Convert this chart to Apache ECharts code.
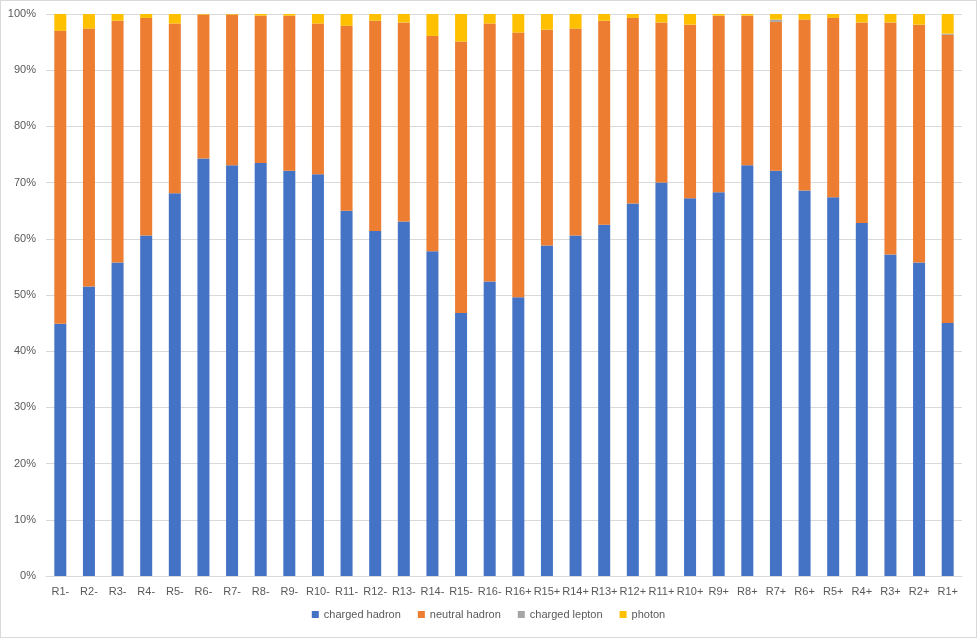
<!DOCTYPE html>
<html>
<head>
<meta charset="utf-8">
<script src="https://cdn.jsdelivr.net/npm/echarts@6/dist/echarts.min.js"></script>
<style>
html,body{margin:0;padding:0;background:#fff;}
#frame{position:absolute;left:0;top:0;width:975px;height:636px;border:1px solid #d9d9d9;}
#chart{position:absolute;left:0;top:0;width:977px;height:639px;}
</style>
</head>
<body>
<div id="frame"></div>
<div id="chart"></div>
<script>
var categories = ['R1-','R2-','R3-','R4-','R5-','R6-','R7-','R8-','R9-','R10-','R11-','R12-','R13-','R14-','R15-','R16-',
                  'R16+','R15+','R14+','R13+','R12+','R11+','R10+','R9+','R8+','R7+','R6+','R5+','R4+','R3+','R2+','R1+'];
var chargedHadron = [44.9,51.5,55.8,60.6,68.1,74.3,73.1,73.5,72.1,71.5,65.0,61.4,63.1,57.8,46.8,52.4,
                     49.6,58.8,60.6,62.5,66.3,70.0,67.2,68.3,73.1,72.1,68.6,67.4,62.8,57.2,55.8,45.0];
var neutralHadron = [52.1,45.9,43.0,38.7,30.2,25.6,26.8,26.2,27.6,26.8,32.9,37.4,35.4,38.3,48.3,45.9,
                     47.1,38.4,36.8,36.3,33.0,28.5,30.9,31.4,26.6,26.5,30.4,31.9,35.7,41.3,42.3,51.3];
var chargedLepton = [0,0,0,0,0,0,0,0,0,0,0,0,0,0,0,0,
                     0,0,0,0,0,0,0,0,0,0.4,0,0,0,0,0,0.2];
var photon = [3.0,2.6,1.2,0.7,1.7,0.1,0.1,0.3,0.3,1.7,2.1,1.2,1.5,3.9,4.9,1.7,
              3.3,2.8,2.6,1.2,0.7,1.5,1.9,0.3,0.3,1.0,1.0,0.7,1.5,1.5,1.9,3.5];
var yTicks = [0,10,20,30,40,50,60,70,80,90,100];

var font = 'Liberation Sans, Arial, sans-serif';
var chart = echarts.init(document.getElementById('chart'));
function mk(name, data, color){
  return {name:name, type:'bar', stack:'total', data:data, barWidth:12,
          itemStyle:{color:color}, emphasis:{disabled:true}};
}
chart.setOption({
  animation:false,
  textStyle:{fontFamily:font},
  grid:{left:46, right:15, top:14, bottom:63, containLabel:false},
  legend:{bottom:14, left:'center', icon:'rect', itemWidth:7, itemHeight:7, itemGap:17,
          textStyle:{color:'#595959', fontSize:11, fontFamily:font},
          data:['charged hadron','neutral hadron','charged lepton','photon']},
  xAxis:{type:'category', data:categories,
         axisLine:{lineStyle:{color:'#d9d9d9'}}, axisTick:{show:false},
         axisLabel:{color:'#595959', fontSize:11, margin:10, interval:0, fontFamily:font}},
  yAxis:{type:'value', min:yTicks[0], max:yTicks[yTicks.length-1], interval:10,
         axisLine:{show:false}, axisTick:{show:false},
         splitLine:{lineStyle:{color:'#d9d9d9'}},
         axisLabel:{color:'#595959', fontSize:11, margin:10, formatter:'{value}%', fontFamily:font}},
  series:[
    mk('charged hadron', chargedHadron, '#4472C4'),
    mk('neutral hadron', neutralHadron, '#ED7D31'),
    mk('charged lepton', chargedLepton, '#A5A5A5'),
    mk('photon', photon, '#FFC000')
  ]
});
</script>
</body>
</html>
